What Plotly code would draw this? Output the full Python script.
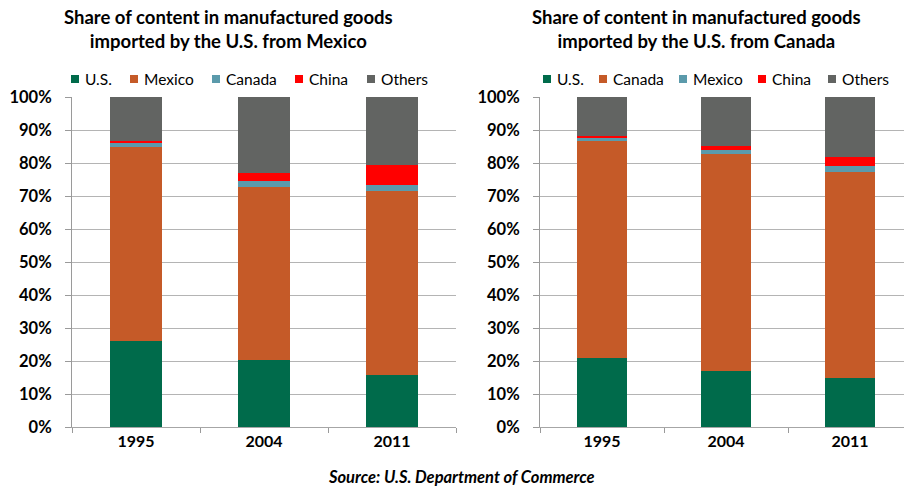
import plotly.graph_objects as go

# ---------------- data ----------------
years = ["1995", "2004", "2011"]

# Chart 1: goods imported from Mexico (percent)
mex_series = ["U.S.", "Mexico", "Canada", "China", "Others"]
mex_us = [26.0, 20.3, 15.7]
mex_mexico = [59.0, 52.5, 55.8]
mex_canada = [1.2, 1.7, 1.7]
mex_china = [0.4, 2.4, 6.1]
mex_others = [13.4, 23.1, 20.7]

# Chart 2: goods imported from Canada (percent)
can_series = ["U.S.", "Canada", "Mexico", "China", "Others"]
can_us = [21.0, 16.9, 14.7]
can_canada = [65.8, 65.7, 62.5]
can_mexico = [0.9, 1.2, 1.9]
can_china = [0.5, 1.4, 2.6]
can_others = [11.8, 14.8, 18.3]

title_left = "Share of content in manufactured goods<br>imported by the U.S. from Mexico"
title_right = "Share of content in manufactured goods<br>imported by the U.S. from Canada"
source_text = "Source: U.S. Department of Commerce"

# ---------------- style ----------------
W, H = 904, 489
# colours by stack position (same palette in both charts)
palette = ["#006B4B", "#C55A28", "#5B9AAB", "#FF0000", "#626462"]
FONT = "Lato"

mex_values = [mex_us, mex_mexico, mex_canada, mex_china, mex_others]
can_values = [can_us, can_canada, can_mexico, can_china, can_others]

fig = go.Figure()

for i, (name, vals) in enumerate(zip(mex_series, mex_values)):
    fig.add_trace(go.Bar(x=years, y=vals, name=name, xaxis="x", yaxis="y",
                         marker=dict(color=palette[i], line=dict(width=0)),
                         width=0.4, showlegend=False))
for i, (name, vals) in enumerate(zip(can_series, can_values)):
    fig.add_trace(go.Bar(x=years, y=vals, name=name, xaxis="x2", yaxis="y2",
                         marker=dict(color=palette[i], line=dict(width=0)),
                         width=0.4, showlegend=False))

plot_top, plot_bottom = 97, 427


def px(x):
    return x / W


def py(y):
    return (plot_bottom - y) / (plot_bottom - plot_top)


axis_common_y = dict(range=[0, 100], dtick=10, ticksuffix="%", showgrid=True,
                     gridcolor="#b4b4b4", gridwidth=1, showline=True,
                     linecolor="#9a9a9a", linewidth=1, ticks="outside",
                     ticklen=6, tickcolor="#9a9a9a", zeroline=False,
                     tickfont=dict(family=FONT, size=16.5, color="#000000"),
                     automargin=False, ticklabelstandoff=10)
axis_common_x = dict(type="category", showline=True, linecolor="#a6a6a6",
                     linewidth=1, ticks="outside", tickson="boundaries",
                     ticklen=5, tickcolor="#9a9a9a", showgrid=False,
                     tickfont=dict(family=FONT, size=16, color="#000000"),
                     automargin=False)

fig.update_layout(
    width=W, height=H,
    margin=dict(l=0, r=0, t=plot_top, b=H - plot_bottom),
    paper_bgcolor="white", plot_bgcolor="white",
    barmode="stack", showlegend=False,
    font=dict(family=FONT, color="#000000"),
    xaxis=dict(domain=[px(72), px(456)], range=[-0.5, 2.5], anchor="y", **axis_common_x),
    yaxis=dict(domain=[0, 1], anchor="x", **axis_common_y),
    xaxis2=dict(domain=[px(540), 1.0], range=[-0.5, 2.435], anchor="y2", **axis_common_x),
    yaxis2=dict(domain=[0, 1], anchor="x2", **axis_common_y),
)

annotations = []
shapes = []

# titles
for txt, cx in [(title_left, 229), (title_right, 696)]:
    annotations.append(dict(text="<b>" + txt + "</b>", x=px(cx), y=py(29),
                            xref="paper", yref="paper", xanchor="center",
                            yanchor="middle", showarrow=False,
                            font=dict(family=FONT, size=18.5, color="#000000"),
                            align="center"))

# source
annotations.append(dict(text="<b><i>" + source_text + "</i></b>", x=px(462), y=py(477),
                        xref="paper", yref="paper", xanchor="center", yanchor="middle",
                        showarrow=False, font=dict(family=FONT, size=16.5, color="#000000")))

# legends (drawn manually for compact Excel-style spacing); x = text start
legend_y = 79
legend_left_x = [84, 143, 225, 308, 380]
legend_right_x = [556, 612, 692, 771, 841]
for series, xs in [(mex_series, legend_left_x), (can_series, legend_right_x)]:
    for i, (name, xt) in enumerate(zip(series, xs)):
        shapes.append(dict(type="rect", xref="paper", yref="paper",
                           x0=px(xt - 13), x1=px(xt - 5), y0=py(legend_y + 4), y1=py(legend_y - 4),
                           fillcolor=palette[i], line=dict(width=0)))
        annotations.append(dict(text=name, x=px(xt - 1), y=py(legend_y),
                                xref="paper", yref="paper", xanchor="left",
                                yanchor="middle", showarrow=False,
                                font=dict(family=FONT, size=15.5, color="#000000")))

fig.update_layout(annotations=annotations, shapes=shapes)
fig.update_xaxes(tickprefix="<b>", ticksuffix="</b>")
fig.update_yaxes(tickprefix="<b>")

fig.write_html("out.html")
